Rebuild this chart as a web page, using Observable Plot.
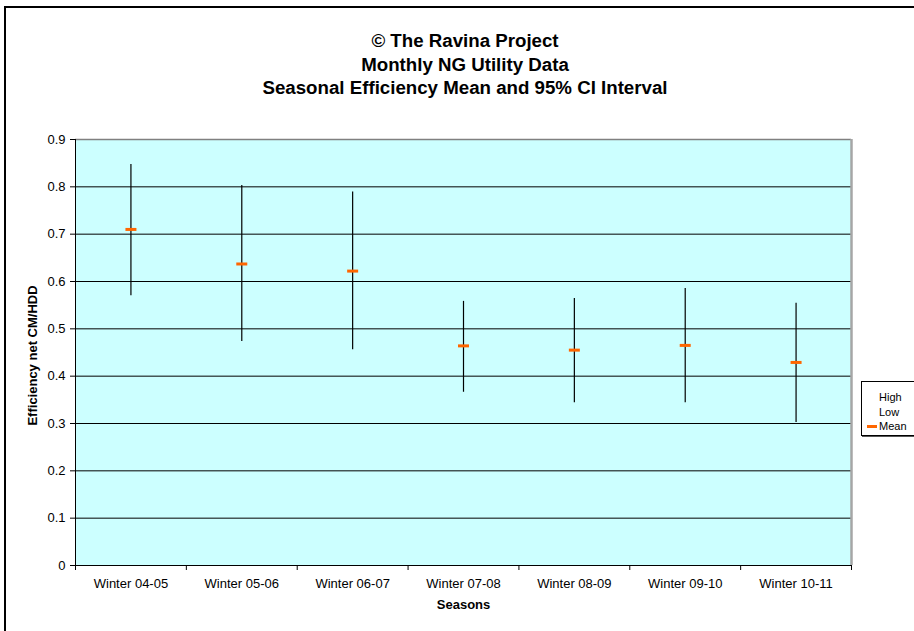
<!DOCTYPE html>
<html>
<head>
<meta charset="utf-8">
<script src="https://cdn.jsdelivr.net/npm/d3@7"></script>
<script src="https://cdn.jsdelivr.net/npm/@observablehq/plot@0.6"></script>
<style>
  body { margin: 0; background: #fff; overflow: hidden; font-family: Arial, "Liberation Sans", sans-serif; }
  #chart { position: relative; width: 914px; height: 631px; overflow: hidden; background: #fff; }
  #frame { position: absolute; left: 4px; top: 6px; width: 1000px; height: 1000px; border: 2px solid #000; box-sizing: border-box; }
  #title { position: absolute; left: 0; width: 930px; top: 29px; text-align: center; font-weight: bold; font-size: 18.7px; line-height: 23.5px; color: #000; }
  #plot { position: absolute; left: 0; top: 100px; }
  #legend { position: absolute; left: 861px; top: 381px; width: 80px; height: 53px; border: 1px solid #000; box-shadow: 1px 1px 0 #555; background: #fff; font-size: 11px; }
  #legend .item { position: absolute; left: 17px; height: 14px; line-height: 14px; }
  #legend .swatch { position: absolute; left: -12px; top: 5.5px; width: 10px; height: 3px; }
</style>
</head>
<body>
<div id="chart">
  <div id="frame"></div>
  <div id="title"></div>
  <div id="plot"></div>
  <div id="legend"></div>
</div>
<script>
// Chart text
const titleLines = ["\u00A9 The Ravina Project", "Monthly NG Utility Data", "Seasonal Efficiency Mean and 95% CI Interval"];
const xLabel = "Seasons";
const yLabel = "Efficiency net CM/HDD";

// Seasons and their 95% CI bounds and means
const seasons = ["Winter 04-05", "Winter 05-06", "Winter 06-07", "Winter 07-08", "Winter 08-09", "Winter 09-10", "Winter 10-11"];
const high = [0.847, 0.803, 0.789, 0.558, 0.564, 0.585, 0.554];
const low  = [0.570, 0.473, 0.456, 0.366, 0.344, 0.344, 0.302];
const mean = [0.710, 0.637, 0.622, 0.464, 0.455, 0.465, 0.429];

const yTicks = [0, 0.1, 0.2, 0.3, 0.4, 0.5, 0.6, 0.7, 0.8, 0.9];
const legendItems = [
  {label: "High", color: null},
  {label: "Low", color: null},
  {label: "Mean", color: "#FF6600"}
];

const orange = "#FF6600";

// Each season occupies one unit slot; its mark sits in the slot centre
const rows = seasons.map((s, i) => ({season: s, pos: i + 0.5, high: high[i], low: low[i], mean: mean[i]}));

// Short horizontal bar used as the mean marker
const dash = {
  draw(ctx) {
    ctx.moveTo(-5.5, -1.5);
    ctx.lineTo(5.5, -1.5);
    ctx.lineTo(5.5, 1.5);
    ctx.lineTo(-5.5, 1.5);
    ctx.closePath();
  }
};

document.getElementById("title").innerHTML = titleLines.map(t => `<div>${t}</div>`).join("");

const yMax = yTicks[yTicks.length - 1];

const chart = Plot.plot({
  width: 914,
  height: 531,
  marginTop: 39,
  marginLeft: 75,
  marginRight: 63,
  marginBottom: 66,
  style: {fontFamily: "Arial, 'Liberation Sans', sans-serif", fontSize: "13px", color: "#000", background: "transparent", overflow: "visible"},
  x: {type: "linear", domain: [0, seasons.length]},
  y: {domain: [0, yMax]},
  marks: [
    Plot.frame({fill: "#CCFFFF", stroke: null}),
    Plot.gridY(yTicks.slice(1, -1), {stroke: "#000", strokeOpacity: 1}),
    Plot.ruleY([yMax], {stroke: "#808080", strokeWidth: 1.5}),
    Plot.ruleX([seasons.length], {stroke: "#A6A6A6", strokeWidth: 2.5}),
    Plot.axisY(yTicks, {tickSize: 5, tickPadding: 5, tickFormat: d => String(d), label: null, stroke: "#000"}),
    Plot.axisX(d3.range(seasons.length + 1), {tickSize: 5, tickFormat: () => "", label: null, stroke: "#000"}),
    Plot.axisX(rows.map(d => d.pos), {tickSize: 0, tickPadding: 13, tickFormat: d => seasons[Math.floor(d)], label: null}),
    Plot.ruleX([0], {stroke: "#000"}),
    Plot.ruleY([0], {stroke: "#000"}),
    Plot.ruleX(rows, {x: "pos", y1: "low", y2: "high", stroke: "#000", strokeWidth: 1.2}),
    Plot.dot(rows, {x: "pos", y: "mean", symbol: dash, fill: orange, stroke: null, r: 4}),
    Plot.text([xLabel], {frameAnchor: "bottom", dy: 43, fontWeight: "bold", fontSize: 13, fill: "#000"}),
    Plot.text([yLabel], {frameAnchor: "left", rotate: -90, dx: -43, dy: 3, textAnchor: "middle", fontWeight: "bold", fontSize: 13, fill: "#000"})
  ]
});
document.getElementById("plot").appendChild(chart);

// Legend
const legend = document.getElementById("legend");
legendItems.forEach((it, i) => {
  const el = document.createElement("div");
  el.className = "item";
  el.style.top = (8 + i * 14.5) + "px";
  el.textContent = it.label;
  if (it.color) {
    const sw = document.createElement("span");
    sw.className = "swatch";
    sw.style.background = it.color;
    el.appendChild(sw);
  }
  legend.appendChild(el);
});
</script>
</body>
</html>
